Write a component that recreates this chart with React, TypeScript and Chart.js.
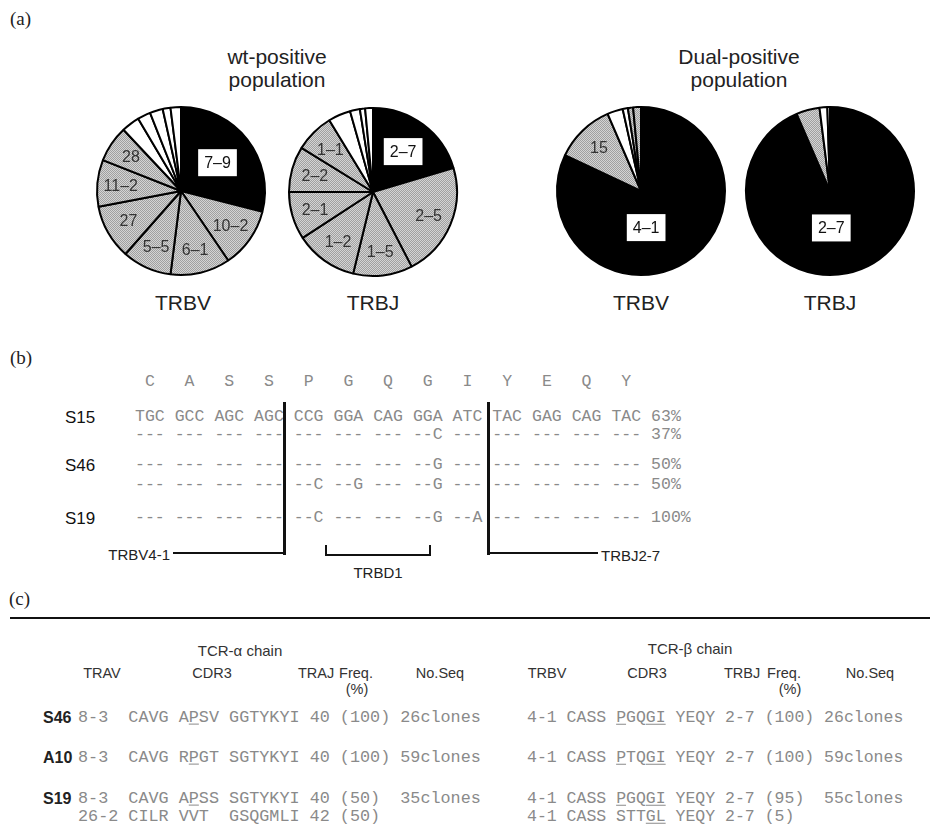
import React, { useEffect, useRef } from 'react';
import { Chart, registerables } from 'chart.js';

Chart.register(...registerables);

// ---------------- data ----------------
const wtTrbvLabels = ['7–9', '10–2', '6–1', '5–5', '27', '11–2', '28', '', '', '', '', ''];
const wtTrbvValues = [29, 11.5, 11.5, 9.5, 10.5, 9, 7, 3.5, 2.5, 2.5, 1.5, 2];
const wtTrbvShades = ['k', 'g', 'g', 'g', 'g', 'g', 'g', 'w', 'w', 'w', 'w', 'w'];

const wtTrbjLabels = ['2–7', '2–5', '1–5', '1–2', '2–1', '2–2', '1–1', '', '', '', ''];
const wtTrbjValues = [20.4, 22, 11.4, 12, 9.25, 8.75, 7.5, 4.3, 1.9, 1, 1.5];
const wtTrbjShades = ['k', 'g', 'g', 'g', 'g', 'g', 'g', 'w', 'w', 'w', 'w'];

const dualTrbvLabels = ['4–1', '15', '', '', '', ''];
const dualTrbvValues = [82, 11.5, 3, 1, 1, 1.5];
const dualTrbvShades = ['k', 'g', 'w', 'w', 'g', 'g'];

const dualTrbjLabels = ['2–7', '', '', ''];
const dualTrbjValues = [93.5, 4.5, 1.5, 0.5];
const dualTrbjShades = ['k', 'g', 'w', 'w'];

const aminoAcids = ['C', 'A', 'S', 'S', 'P', 'G', 'Q', 'G', 'I', 'Y', 'E', 'Q', 'Y'];
const seqRowLabels = ['S15', '', 'S46', '', 'S19'];
const seqRows = [
  'TGC GCC AGC AGC CCG GGA CAG GGA ATC TAC GAG CAG TAC',
  '--- --- --- --- --- --- --- --C --- --- --- --- ---',
  '--- --- --- --- --- --- --- --G --- --- --- --- ---',
  '--- --- --- --- --C --G --- --G --- --- --- --- ---',
  '--- --- --- --- --C --- --- --G --A --- --- --- ---',
];
const seqPercents = ['63%', '37%', '50%', '50%', '100%'];

const tableRowLabels = ['S46', 'A10', 'S19', ''];
const alphaRows = [
  '8-3  CAVG A[P]SV GGTYKYI 40 (100) 26clones',
  '8-3  CAVG R[P]GT SGTYKYI 40 (100) 59clones',
  '8-3  CAVG A[P]SS SGTYKYI 40 (50)  35clones',
  '26-2 CILR VVT  GSQGMLI 42 (50)',
];
const betaRows = [
  '4-1 CASS [P]GQ[GI] YEQY 2-7 (100) 26clones',
  '4-1 CASS [P]TQ[GI] YEQY 2-7 (100) 59clones',
  '4-1 CASS [P]GQ[GI] YEQY 2-7 (95)  55clones',
  '4-1 CASS STT[GL] YEQY 2-7 (5)',
];

// ---------------- styles ----------------
const SANS = '"Liberation Sans", Arial, Helvetica, sans-serif';
const MONO = '"Liberation Mono", "DejaVu Sans Mono", monospace';
const SERIF = '"Liberation Serif", "Times New Roman", serif';
const SEQ_COLOR = '#8a8a8a';
const SEQ_X0 = 135;
const SEQ_PITCH = 39.7;
const SIZE = 178;

function makeGray(): CanvasPattern | string {
  const c = document.createElement('canvas');
  c.width = 2;
  c.height = 2;
  const g = c.getContext('2d');
  if (!g) return '#bfbfbf';
  g.fillStyle = '#d4d4d4';
  g.fillRect(0, 0, 2, 2);
  g.fillStyle = '#a0a0a0';
  g.fillRect(0, 0, 1, 1);
  g.fillRect(1, 1, 1, 1);
  const p = g.createPattern(c, 'repeat');
  return p || '#bfbfbf';
}

type PieProps = {
  cx: number;
  cy: number;
  values: number[];
  labels: string[];
  shades: string[];
  boxFrac: number;
  boxAngle?: number;
};

function Pie({ cx, cy, values, labels, shades, boxFrac, boxAngle }: PieProps) {
  const ref = useRef<HTMLCanvasElement | null>(null);
  useEffect(() => {
    const canvas = ref.current;
    if (!canvas) return;
    const gray = makeGray();
    const colors = shades.map((s) => (s === 'k' ? '#000000' : s === 'g' ? gray : '#ffffff'));
    const labelPlugin = {
      id: 'sliceLabels',
      afterDatasetsDraw(chart: any) {
        const ctx = chart.ctx;
        const meta = chart.getDatasetMeta(0);
        meta.data.forEach((arc: any, i: number) => {
          const lab = labels[i];
          if (!lab) return;
          const p = arc.getProps(['x', 'y', 'startAngle', 'endAngle', 'outerRadius'], true);
          const boxed = shades[i] === 'k';
          let mid = (p.startAngle + p.endAngle) / 2;
          if (boxed && boxAngle !== undefined) mid = ((boxAngle - 90) * Math.PI) / 180;
          const d = p.outerRadius * (boxed ? boxFrac : 0.72);
          const x = p.x + Math.cos(mid) * d;
          const y = p.y + Math.sin(mid) * d;
          ctx.save();
          ctx.font = `16px ${SANS}`;
          ctx.textAlign = 'center';
          ctx.textBaseline = 'middle';
          if (boxed) {
            const w = ctx.measureText(lab).width + 12;
            const h = 27;
            ctx.fillStyle = '#ffffff';
            ctx.fillRect(x - w / 2, y - h / 2, w, h);
            ctx.fillStyle = '#111111';
          } else {
            ctx.fillStyle = '#333333';
          }
          ctx.fillText(lab, x, y + 1);
          ctx.restore();
        });
      },
    };
    const chart = new Chart(canvas, {
      type: 'pie',
      data: {
        labels: labels.map((l, i) => l || `s${i}`),
        datasets: [
          {
            data: values,
            backgroundColor: colors as any,
            borderColor: '#000000',
            borderWidth: 2,
          },
        ],
      },
      options: {
        animation: false,
        responsive: false,
        events: [],
        layout: { padding: 4 },
        plugins: { legend: { display: false }, tooltip: { enabled: false } },
      },
      plugins: [labelPlugin],
    });
    return () => chart.destroy();
  }, []);
  return (
    <canvas
      ref={ref}
      width={SIZE}
      height={SIZE}
      style={{ position: 'absolute', left: cx - SIZE / 2, top: cy - SIZE / 2 }}
    />
  );
}

type TP = {
  x: number;
  y: number;
  a?: 'l' | 'c' | 'r';
  size?: number;
  font?: string;
  color?: string;
  weight?: number;
  children: React.ReactNode;
};

function T({ x, y, a = 'l', size = 15, font = SANS, color = '#222', weight = 400, children }: TP) {
  const tx = a === 'c' ? '-50%' : a === 'r' ? '-100%' : '0';
  return (
    <div
      style={{
        position: 'absolute',
        left: x,
        top: y,
        transform: `translate(${tx},-50%)`,
        fontFamily: font,
        fontSize: size,
        color,
        fontWeight: weight,
        whiteSpace: 'pre',
        lineHeight: 1,
      }}
    >
      {children}
    </div>
  );
}

function L({ x, y, w, h }: { x: number; y: number; w: number; h: number }) {
  return <div style={{ position: 'absolute', left: x, top: y, width: w, height: h, background: '#111' }} />;
}

function parseUnderline(s: string): React.ReactNode[] {
  const out: React.ReactNode[] = [];
  const re = /\[([^\]]+)\]/g;
  let last = 0;
  let m: RegExpExecArray | null;
  let k = 0;
  while ((m = re.exec(s))) {
    if (m.index > last) out.push(<span key={k++}>{s.slice(last, m.index)}</span>);
    out.push(
      <span key={k++} style={{ textDecoration: 'underline', textUnderlineOffset: 2 }}>
        {m[1]}
      </span>
    );
    last = m.index + m[0].length;
  }
  if (last < s.length) out.push(<span key={k++}>{s.slice(last)}</span>);
  return out;
}

const seqRowY = [417, 435, 465, 485, 518];
const tableRowY = [718, 758, 799, 817];
const HDR = 14.5;

export default function App() {
  return (
    <div
      style={{
        position: 'absolute',
        left: 0,
        top: 0,
        width: 930,
        height: 837,
        overflow: 'hidden',
        background: '#fff',
      }}
    >
      {/* (a) */}
      <T x={10} y={18} size={19} font={SERIF} color="#222">(a)</T>
      <T x={277} y={56} a="c" size={21}>wt-positive</T>
      <T x={277} y={79} a="c" size={21}>population</T>
      <T x={739} y={56} a="c" size={21}>Dual-positive</T>
      <T x={739} y={79} a="c" size={21}>population</T>

      <Pie cx={181} cy={191} values={wtTrbvValues} labels={wtTrbvLabels} shades={wtTrbvShades} boxFrac={0.55} />
      <Pie cx={373} cy={192} values={wtTrbjValues} labels={wtTrbjLabels} shades={wtTrbjShades} boxFrac={0.6} />
      <Pie cx={641} cy={191} values={dualTrbvValues} labels={dualTrbvLabels} shades={dualTrbvShades} boxFrac={0.44} boxAngle={172} />
      <Pie cx={830} cy={191} values={dualTrbjValues} labels={dualTrbjLabels} shades={dualTrbjShades} boxFrac={0.44} boxAngle={178} />

      <T x={183} y={302} a="c" size={21}>TRBV</T>
      <T x={373} y={302} a="c" size={21}>TRBJ</T>
      <T x={641} y={302} a="c" size={21}>TRBV</T>
      <T x={830} y={302} a="c" size={21}>TRBJ</T>

      {/* (b) */}
      <T x={10} y={357} size={19} font={SERIF}>(b)</T>
      {aminoAcids.map((aa, k) => (
        <T key={'aa' + k} x={SEQ_X0 + k * SEQ_PITCH + 14.85} y={382} a="c" size={16.5} font={MONO} color={SEQ_COLOR}>
          {aa}
        </T>
      ))}
      {seqRows.map((row, r) => (
        <React.Fragment key={'row' + r}>
          {seqRowLabels[r] ? (
            <T x={65} y={seqRowY[r]} size={17} color="#111">{seqRowLabels[r]}</T>
          ) : null}
          {row.split(' ').map((c, k) => (
            <T key={k} x={SEQ_X0 + k * SEQ_PITCH} y={seqRowY[r]} size={16.5} font={MONO} color={SEQ_COLOR}>
              {c}
            </T>
          ))}
          <T x={SEQ_X0 + 13 * SEQ_PITCH} y={seqRowY[r]} size={16.5} font={MONO} color={SEQ_COLOR}>
            {seqPercents[r]}
          </T>
        </React.Fragment>
      ))}
      {/* junction bars */}
      <L x={283} y={402} w={2.5} h={153} />
      <L x={173} y={552} w={112} h={2} />
      <L x={487} y={402} w={2.5} h={153} />
      <L x={487} y={552} w={111} h={2} />
      <T x={170} y={554} a="r" size={15} color="#222">TRBV4-1</T>
      <T x={601} y={555} size={15} color="#222">TRBJ2-7</T>
      {/* TRBD1 bracket */}
      <L x={325} y={554} w={106} h={2} />
      <L x={325} y={545} w={2} h={11} />
      <L x={429} y={545} w={2} h={11} />
      <T x={378} y={572} a="c" size={15} color="#222">TRBD1</T>

      {/* (c) */}
      <T x={9} y={598} size={19} font={SERIF}>(c)</T>
      <L x={10} y={617} w={920} h={2} />
      <T x={240} y={650} a="c" size={15} color="#333">TCR-α chain</T>
      <T x={690} y={648} a="c" size={15} color="#333">TCR-β chain</T>

      <T x={102} y={673} a="c" size={HDR} color="#333">TRAV</T>
      <T x={212} y={673} a="c" size={HDR} color="#333">CDR3</T>
      <T x={316} y={673} a="c" size={HDR} color="#333">TRAJ</T>
      <T x={356} y={673} a="c" size={HDR} color="#333">Freq.</T>
      <T x={357} y={689} a="c" size={HDR} color="#333">(%)</T>
      <T x={440} y={673} a="c" size={HDR} color="#333">No.Seq</T>

      <T x={547} y={673} a="c" size={HDR} color="#333">TRBV</T>
      <T x={647} y={673} a="c" size={HDR} color="#333">CDR3</T>
      <T x={742} y={673} a="c" size={HDR} color="#333">TRBJ</T>
      <T x={784} y={673} a="c" size={HDR} color="#333">Freq.</T>
      <T x={790} y={689} a="c" size={HDR} color="#333">(%)</T>
      <T x={870} y={673} a="c" size={HDR} color="#333">No.Seq</T>

      {tableRowLabels.map((lab, r) => (
        <React.Fragment key={'tr' + r}>
          {lab ? (
            <T x={43} y={tableRowY[r]} size={16} weight={700} color="#222">{lab}</T>
          ) : null}
          <T x={78} y={tableRowY[r]} size={16.8} font={MONO} color={SEQ_COLOR}>
            {parseUnderline(alphaRows[r])}
          </T>
          <T x={527} y={tableRowY[r]} size={16.5} font={MONO} color={SEQ_COLOR}>
            {parseUnderline(betaRows[r])}
          </T>
        </React.Fragment>
      ))}
    </div>
  );
}
